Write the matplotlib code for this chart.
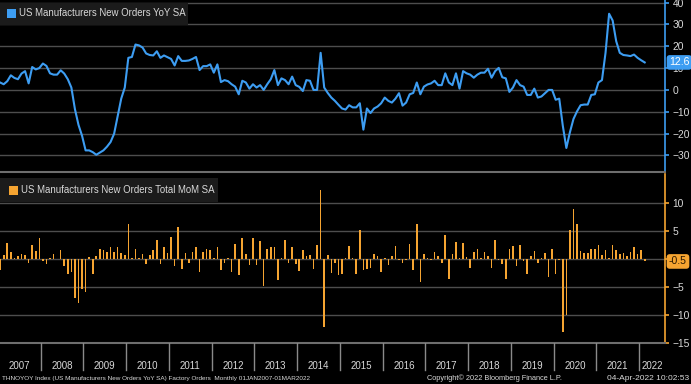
import matplotlib
matplotlib.use('Agg')
import matplotlib.pyplot as plt
import matplotlib.transforms as mtrans
import numpy as np

# US Manufacturers New Orders YoY SA, Jan 2007 - Feb 2022 (monthly)
yoy = [3.4, 2.6, 4.0, 6.7, 5.5, 4.9, 7.5, 8.6, 3.0, 10.5, 9.4, 10.0,
       12.1, 11.0, 7.6, 7.0, 7.0, 9.0, 7.5, 4.9, 1.1, -8.8, -16.0, -21.0,
       -27.7, -27.7, -28.5, -29.7, -28.7, -27.7, -26.0, -23.9, -20.1, -12.0, -4.0, 1.1,
       14.7, 15.1, 20.8, 20.4, 19.4, 16.7, 16.0, 15.8, 17.7, 14.7, 15.8, 15.0,
       14.2, 11.2, 15.5, 13.3, 13.3, 13.5, 14.2, 15.1, 9.1, 10.9, 10.9, 11.7,
       7.9, 11.7, 3.6, 4.5, 4.0, 2.6, 1.5, -2.0, 4.2, 3.4, 0.6, 2.6,
       1.1, 2.2, 0.0, 2.6, 4.9, 9.1, 2.2, 5.3, 4.5, 2.6, 6.1, 2.2,
       1.4, -0.5, 4.5, 4.2, 0.0, 0.0, 17.0, 1.1, -1.4, -3.5, -5.0, -6.8,
       -8.5, -9.0, -7.0, -8.0, -8.0, -6.1, -18.2, -8.5, -10.6, -8.5, -7.6, -6.1,
       -3.5, -5.0, -5.8, -4.0, -1.5, -7.2, -5.8, -2.0, -1.4, 3.4, -2.0, 1.5,
       2.5, 3.0, 4.2, 2.2, 2.2, 7.6, 3.4, 2.2, 7.6, 0.6, 8.6, 7.6,
       7.0, 5.6, 7.0, 7.9, 7.9, 9.7, 5.6, 8.6, 10.1, 5.8, 5.3, -0.9,
       1.1, 4.5, 2.2, 1.5, -2.3, -2.3, 0.6, -3.5, -3.0, -1.5, 0.0, 0.0,
       -4.5, -4.0, -16.4, -26.6, -19.4, -13.3, -9.8, -7.0, -6.7, -6.7, -2.3, -2.0,
       3.4, 4.5, 17.0, 34.9, 31.8, 22.3, 17.0, 16.0, 15.8, 15.5, 16.2, 14.7,
       13.6, 12.6]

# US Manufacturers New Orders Total MoM SA
mom = [-2.1, 0.6, 2.8, 1.2, 0.2, 0.4, 0.9, 0.6, -0.8, 2.4, 1.4, 3.6,
       -0.4, -1.0, 0.2, 0.9, -0.1, 1.6, -1.4, -2.8, -2.4, -7.1, -7.9, -5.4,
       -6.0, 0.3, -2.7, 0.4, 1.7, 1.6, 1.2, 2.0, 1.2, 2.0, 1.0, 0.6,
       6.1, 0.2, 1.7, 0.2, 0.9, -0.9, 0.6, 1.6, 3.4, -0.9, 2.1, 1.0,
       3.9, -1.4, 5.7, -1.8, 1.0, -0.8, 1.2, 2.1, -2.4, 1.2, 1.8, 1.5,
       0.2, 2.0, -2.1, -0.8, 0.2, -2.4, 2.7, -3.0, 3.7, 0.8, -1.2, 3.7,
       -1.2, 3.2, -4.8, 1.7, 2.1, 2.1, -3.8, 0.1, 3.3, -0.8, 2.0, -0.9,
       -2.2, 1.5, 0.4, 0.6, -1.8, 2.4, 12.3, -12.2, 0.6, -2.6, -0.8, -3.0,
       -2.8, 0.1, 2.2, 0.1, -2.7, 5.1, -2.0, -1.8, -1.6, 0.8, 0.4, -2.4,
       0.2, -1.2, 0.4, 2.2, -0.3, -0.8, -0.3, 2.6, -2.0, 6.1, -4.2, 0.9,
       0.2, -0.3, 1.2, 0.4, -0.8, 4.3, -3.6, 0.9, 2.9, 0.2, 2.8, 0.3,
       -1.6, 1.2, 1.8, 0.2, 1.2, 0.4, -1.6, 3.3, -0.3, -1.0, -3.6, 1.8,
       2.2, -1.4, 2.4, -0.4, -2.8, 0.4, 1.4, -0.8, 0.1, 1.0, -3.3, 1.7,
       -2.7, -0.2, -13.1, -10.1, 5.1, 8.9, 6.1, 1.4, 1.0, 1.0, 1.7, 1.8,
       2.4, 0.6, 1.5, 0.1, 2.4, 1.5, 0.8, 1.0, 0.4, 1.2, 2.0, 0.9,
       1.6, -0.5]

years = [str(y) for y in range(2007, 2023)]
yoy_ticks = [-30, -20, -10, 0, 10, 20, 30, 40]
mom_ticks = [-15, -10, -5, 0, 5, 10]

BLUE = '#3d9df2'
ORANGE = '#f5a431'
GRID = '#4d4d4d'
TXT = '#d9d9d9'
plt.rcParams['font.family'] = ['Liberation Sans', 'DejaVu Sans']

W, H = 691, 384
fig = plt.figure(figsize=(W / 100, H / 100), dpi=100, facecolor='black')


def box(x0, y0, x1, y1):
    return [x0 / W, 1 - y1 / H, (x1 - x0) / W, (y1 - y0) / H]


ax1 = fig.add_axes(box(0, 0, 665, 172))
ax2 = fig.add_axes(box(0, 174, 665, 343))
ax3 = fig.add_axes(box(0, 343, 665, 372))

x = np.arange(len(yoy)) + 0.6
xlim = (0.56, 187.3)

# --- top: YoY line
ax1.plot(x, yoy, color=BLUE, lw=1.5, zorder=3)
ax1.set_ylim(-37.6, 41.2)
ax1.set_yticks(yoy_ticks)

# --- bottom: MoM bars
ax2.bar(np.arange(len(mom)) + 0.6, mom, width=0.45, color=ORANGE, zorder=3)
ax2.set_ylim(-15.05, 15.1)
ax2.set_yticks(mom_ticks)

for ax, col in ((ax1, BLUE), (ax2, ORANGE)):
    ax.set_facecolor('black')
    ax.set_xlim(*xlim)
    ax.set_xticks([])
    ax.grid(axis='y', color=GRID, lw=1.0)
    ax.set_axisbelow(True)
    ax.yaxis.tick_right()
    ax.tick_params(axis='y', colors=col, labelcolor=TXT, labelsize=7.4,
                   length=3, width=1.2, pad=2.5)
    for s in ('left', 'top'):
        ax.spines[s].set_visible(False)
    ax.spines['right'].set_color(col)
    ax.spines['right'].set_linewidth(1.2)
    ax.spines['bottom'].set_color('#6e6e6e')
    ax.spines['bottom'].set_linewidth(1.5)

# legend boxes
fig.patches.append(plt.Rectangle((0, 1 - 25 / H), 188 / W, 22 / H, transform=fig.transFigure,
                                 facecolor='#1b1b1b', edgecolor='none'))
fig.patches.append(plt.Rectangle((7 / W, 1 - 18 / H), 9 / W, 9 / H, transform=fig.transFigure,
                                 facecolor=BLUE, edgecolor='none'))
fig.text(19 / W, 1 - 13.5 / H, 'US Manufacturers New Orders YoY SA', color=TXT,
         fontsize=6.9, va='center', ha='left')
fig.patches.append(plt.Rectangle((0, 1 - 202 / H), 218 / W, 24 / H, transform=fig.transFigure,
                                 facecolor='#1b1b1b', edgecolor='none'))
fig.patches.append(plt.Rectangle((9 / W, 1 - 194.5 / H), 9 / W, 9 / H, transform=fig.transFigure,
                                 facecolor=ORANGE, edgecolor='none'))
fig.text(21 / W, 1 - 190 / H, 'US Manufacturers New Orders Total MoM SA', color=TXT,
         fontsize=6.9, va='center', ha='left')

# last value tags (drawn over the tick labels, as in the terminal chart)
tr1 = mtrans.blended_transform_factory(ax1.transAxes, ax1.transData)
ax1.text(1.006, yoy[-1], f'{yoy[-1]:.1f}', transform=tr1, color='white', fontsize=7.6,
         va='center', ha='left', clip_on=False, zorder=5,
         bbox=dict(boxstyle='round,pad=0.22,rounding_size=0.3', facecolor=BLUE, edgecolor='none'))
tr2 = mtrans.blended_transform_factory(ax2.transAxes, ax2.transData)
ax2.text(1.006, mom[-1], f'{mom[-1]:.1f}', transform=tr2, color='#2a1800', fontsize=7.6,
         va='center', ha='left', clip_on=False, zorder=5,
         bbox=dict(boxstyle='round,pad=0.22,rounding_size=0.3', facecolor=ORANGE, edgecolor='none'))

# date band
ax3.set_facecolor('black')
ax3.set_xlim(*xlim)
ax3.set_ylim(0, 1)
ax3.axis('off')
for i, yr in enumerate(years):
    start = i * 12
    if i > 0:
        ax3.plot([start, start], [0.08, 1.0], color='#8a8a8a', lw=1.0)
    mid = start + 6 if i < len(years) - 1 else (start + xlim[1]) / 2
    ax3.text(mid, 0.22, yr, color=TXT, fontsize=7, ha='center', va='center')

fig.text(2 / W, 1 - 378.5 / H,
         'THNOYOY Index (US Manufacturers New Orders YoY SA) Factory Orders  Monthly 01JAN2007-01MAR2022',
         color=TXT, fontsize=4.6, ha='left', va='center')
fig.text(427 / W, 1 - 378.5 / H, 'Copyright\u00a9 2022 Bloomberg Finance L.P.',
         color=TXT, fontsize=5.3, ha='left', va='center')
fig.text(689 / W, 1 - 378.5 / H, '04-Apr-2022 10:02:53',
         color=TXT, fontsize=6.0, ha='right', va='center')

fig.savefig('out.png', dpi=100, facecolor='black')
